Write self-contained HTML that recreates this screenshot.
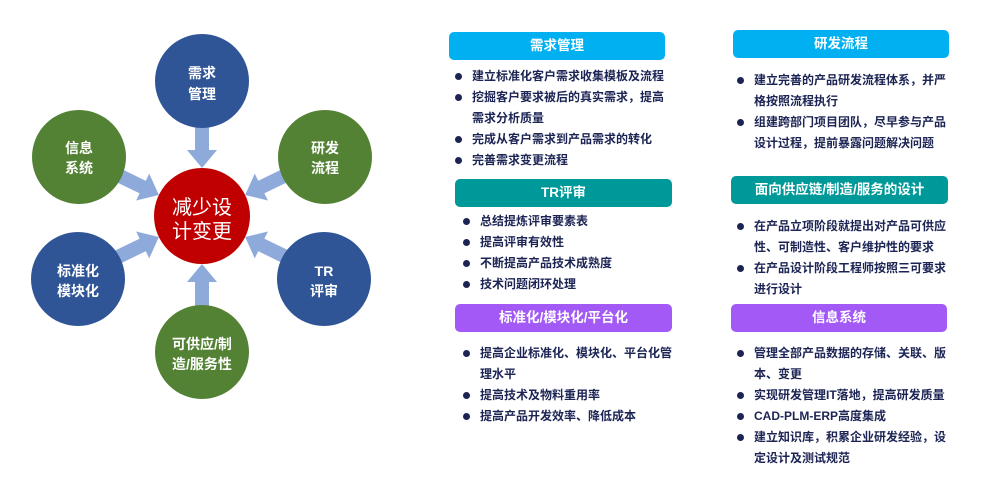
<!DOCTYPE html><html><head><meta charset="utf-8"><style>
body{margin:0;width:981px;height:487px;background:#fff;position:relative;overflow:hidden;font-family:"Liberation Sans","Noto Sans CJK SC",sans-serif}
.h{position:absolute;height:28px;border-radius:5px;color:#fff;font-weight:bold;font-size:13.5px;text-align:center;line-height:28px}
.l{position:absolute;color:#1c2454;font-weight:bold;font-size:12px;line-height:21px}
.l div{position:relative;padding-left:20px}
.l div:before{content:"";position:absolute;left:3px;top:7px;width:7px;height:7px;border-radius:50%;background:#1c2454}
</style></head><body>
<svg width="400" height="487" style="position:absolute;left:0;top:0" font-family="Liberation Sans, Noto Sans CJK SC, sans-serif">
<defs><g id="ar"><rect x="-7" y="-96" width="14" height="31" fill="#8eaadb"/><polygon points="-15,-66 15,-66 0,-48" fill="#8eaadb"/></g></defs>
<g transform="translate(202,216)">
<use href="#ar" transform="rotate(0)"/><use href="#ar" transform="rotate(64)"/><use href="#ar" transform="rotate(116)"/><use href="#ar" transform="rotate(180)"/><use href="#ar" transform="rotate(244)"/><use href="#ar" transform="rotate(296)"/>
</g>
<circle cx="202" cy="81" r="47" fill="#2f5597"/><circle cx="325" cy="157" r="47" fill="#548235"/><circle cx="324" cy="279" r="47" fill="#2f5597"/>
<circle cx="202" cy="352" r="47" fill="#548235"/><circle cx="78" cy="279" r="47" fill="#2f5597"/><circle cx="79" cy="157" r="47" fill="#548235"/>
<circle cx="202" cy="216" r="48" fill="#c00000"/>
<g fill="#fff" font-weight="bold" font-size="14" text-anchor="middle">
<text x="202" y="78">需求</text><text x="202" y="99">管理</text>
<text x="325" y="153">研发</text><text x="325" y="173">流程</text>
<text x="324" y="276">TR</text><text x="324" y="296">评审</text>
<text x="202" y="349">可供应/制</text><text x="202" y="369">造/服务性</text>
<text x="78" y="276">标准化</text><text x="78" y="296">模块化</text>
<text x="79" y="153">信息</text><text x="79" y="173">系统</text>
</g>
<g fill="#fff" font-size="20" text-anchor="middle"><text x="202" y="214">减少设</text><text x="202" y="238">计变更</text></g>
</svg>
<div class="h" style="left:449px;top:32px;width:216px;background:#00b0f0">需求管理</div>
<div class="l" style="left:452px;top:66px"><div>建立标准化客户需求收集模板及流程</div><div>挖掘客户要求被后的真实需求，提高<br>需求分析质量</div><div>完成从客户需求到产品需求的转化</div><div>完善需求变更流程</div></div>
<div class="h" style="left:455px;top:179px;width:217px;background:#009999">TR评审</div>
<div class="l" style="left:460px;top:211px"><div>总结提炼评审要素表</div><div>提高评审有效性</div><div>不断提高产品技术成熟度</div><div>技术问题闭环处理</div></div>
<div class="h" style="left:455px;top:304px;width:217px;background:#a259f5">标准化/模块化/平台化</div>
<div class="l" style="left:460px;top:343px"><div>提高企业标准化、模块化、平台化管<br>理水平</div><div>提高技术及物料重用率</div><div>提高产品开发效率、降低成本</div></div>
<div class="h" style="left:733px;top:30px;width:216px;background:#00b0f0">研发流程</div>
<div class="l" style="left:734px;top:70px"><div>建立完善的产品研发流程体系，并严<br>格按照流程执行</div><div>组建跨部门项目团队，尽早参与产品<br>设计过程，提前暴露问题解决问题</div></div>
<div class="h" style="left:731px;top:176px;width:217px;background:#009999">面向供应链/制造/服务的设计</div>
<div class="l" style="left:734px;top:216px"><div>在产品立项阶段就提出对产品可供应<br>性、可制造性、客户维护性的要求</div><div>在产品设计阶段工程师按照三可要求<br>进行设计</div></div>
<div class="h" style="left:731px;top:304px;width:216px;background:#a259f5">信息系统</div>
<div class="l" style="left:734px;top:343px"><div>管理全部产品数据的存储、关联、版<br>本、变更</div><div>实现研发管理IT落地，提高研发质量</div><div>CAD-PLM-ERP高度集成</div><div>建立知识库，积累企业研发经验，设<br>定设计及测试规范</div></div>
</body></html>
